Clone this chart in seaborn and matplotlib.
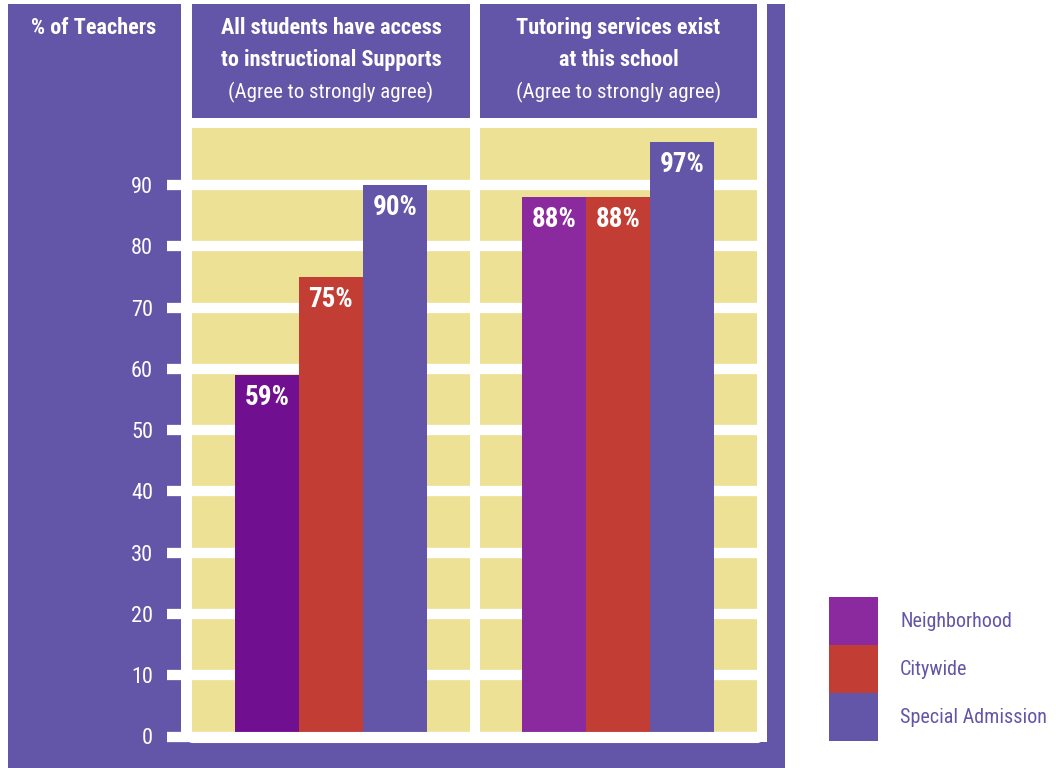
import numpy as np
import pandas as pd
import seaborn as sns
import matplotlib.pyplot as plt
from matplotlib import font_manager
from matplotlib.patches import Rectangle

# data
questions = ["All students have access\nto instructional Supports",
             "Tutoring services exist\nat this school"]
subtitle = "(Agree to strongly agree)"
schools = ["Neighborhood", "Citywide", "Special Admission"]
neighborhood = [59, 88]
citywide = [75, 88]
special = [90, 97]
yticks = [0, 10, 20, 30, 40, 50, 60, 70, 80, 90]

PURPLE = "#6355a8"
YELLOW = "#ede196"
palette = {"Neighborhood": "#8b2a9e", "Citywide": "#c23e35", "Special Admission": PURPLE}
FIRST_NEIGHBORHOOD = "#701090"

sns.set_theme(style="white")

# pick a narrow face if the box has one
names = {f.name for f in font_manager.fontManager.ttflist}
family = "DejaVu Sans"
for cand in ["Roboto Condensed", "Liberation Sans Narrow", "Open Sans Condensed"]:
    if cand in names:
        family = cand
        break
plt.rcParams["font.family"] = [family, "DejaVu Sans"]
plt.rcParams["font.stretch"] = "condensed"

df = pd.DataFrame({
    "question": np.repeat(questions, 3),
    "school": schools * 2,
    "pct": [neighborhood[0], citywide[0], special[0],
            neighborhood[1], citywide[1], special[1]],
})

W, H = 1056, 768
fig = plt.figure(figsize=(W / 100, H / 100), dpi=100, facecolor="white")


def px_rect(x0, y0, x1, y1, color, z):
    fig.patches.append(Rectangle((x0 / W, 1 - y1 / H), (x1 - x0) / W, (y1 - y0) / H,
                                 transform=fig.transFigure, color=color, zorder=z, lw=0))


# backdrop: purple frame, white inner area, purple header boxes
px_rect(8, 4, 785, 768, PURPLE, -3)
px_rect(181, 0, 767, 742, "white", -2)
px_rect(192, 4, 470, 118, PURPLE, -1)
px_rect(480, 4, 757, 118, PURPLE, -1)

ax = fig.add_axes([192 / W, (H - 736.5) / H, 565 / W, 608.5 / H])
ax.set_facecolor(YELLOW)

sns.barplot(data=df, x="question", y="pct", hue="school", hue_order=schools,
            palette=palette, saturation=1, width=0.669, linewidth=0,
            ax=ax, zorder=2)
ax.patches[0].set_facecolor(FIRST_NEIGHBORHOOD)

for cont in ax.containers:
    ax.bar_label(cont, fmt="%.0f%%", padding=-26, color="white",
                 fontsize=19.5, fontweight="bold", zorder=4)

handles, labels = ax.get_legend_handles_labels()
ax.get_legend().remove()

ax.set_xlim(-0.484, 1.484)
ax.set_ylim(0, 99.3)
ax.set_yticks(yticks)
ax.set_xticks([])
ax.set_xlabel("")
ax.set_ylabel("")
ax.grid(axis="y", color="white", lw=7.4)
ax.set_axisbelow(True)
ax.tick_params(axis="y", direction="out", length=18, width=7.4, color="white",
               pad=10, labelcolor="white", labelsize=16, left=True)
for s in ax.spines.values():
    s.set_visible(False)
ax.axvline(0.5, color="white", lw=7.2, zorder=1)
ax.axhline(0, color="white", lw=8, zorder=5, clip_on=False)

# headers
fig.text(94 / W, 1 - 28 / H, "% of Teachers", color="white", fontsize=16,
         fontweight="bold", ha="center", va="center")
for cx, q in zip([331, 618.5], questions):
    line1, line2 = q.split("\n")
    fig.text(cx / W, 1 - 28 / H, line1, color="white", fontsize=16,
             fontweight="bold", ha="center", va="center")
    fig.text(cx / W, 1 - 60 / H, line2, color="white", fontsize=16,
             fontweight="bold", ha="center", va="center")
    fig.text(cx / W, 1 - 92 / H, subtitle, color="white", fontsize=15,
             ha="center", va="center")

fig.legend(handles, labels, loc="upper left", bbox_to_anchor=(829 / W, 1 - 597 / H),
           frameon=False, fontsize=14.5, labelcolor=PURPLE, handlelength=2.43,
           handleheight=3.3, labelspacing=0, handletextpad=1.1,
           borderpad=0, borderaxespad=0)

fig.savefig("out.png", dpi=100, facecolor="white")
